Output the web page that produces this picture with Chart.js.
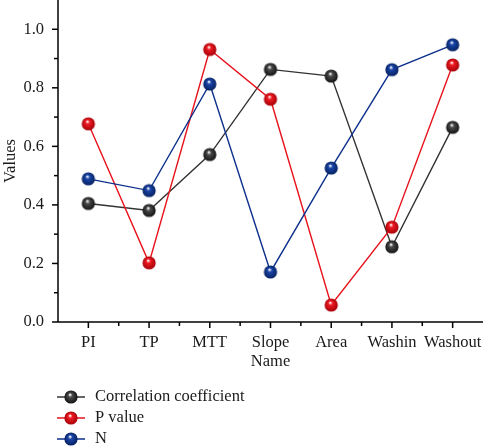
<!DOCTYPE html>
<html>
<head>
<meta charset="utf-8">
<script src="https://cdn.jsdelivr.net/npm/chart.js@4/dist/chart.umd.min.js"></script>
<style>
  html, body { margin: 0; padding: 0; background: #fff; }
  #wrap { width: 483px; height: 446px; }
</style>
</head>
<body>
<div id="wrap"><canvas id="chart" width="483" height="446"></canvas></div>
<script>
// =============================
// Données
// =============================
const names = ["PI", "TP", "MTT", "Slope", "Area", "Washin", "Washout"];
const correlation = [0.405, 0.381, 0.572, 0.863, 0.840, 0.257, 0.665];
const pValue = [0.677, 0.202, 0.931, 0.761, 0.058, 0.324, 0.878];
const nValues = [0.489, 0.449, 0.813, 0.171, 0.526, 0.862, 0.947];
const yTickValues = [0, 0.2, 0.4, 0.6, 0.8, 1.0];

const FONT = "'Liberation Serif', 'DejaVu Serif', serif";
const FSIZE = 16.5;
const TEXT = "#1a1a1a";

// =============================
// Marqueur "bille" avec dégradé
// =============================
function makeBall(color, dark) {
  const c = document.createElement("canvas");
  c.width = 16; c.height = 16;
  const g = c.getContext("2d");
  const grad = g.createRadialGradient(7, 5.5, 0.3, 8, 8, 6.8);
  grad.addColorStop(0, "#ffffff");
  grad.addColorStop(0.28, color);
  grad.addColorStop(1, dark);
  g.beginPath();
  g.arc(8, 8, 6.6, 0, Math.PI * 2);
  g.fillStyle = grad;
  g.fill();
  return c;
}

const series = [
  { label: "Correlation coefficient", data: correlation, line: "#333333", ball: makeBall("#4a4a4a", "#111111") },
  { label: "P value", data: pValue, line: "#e8121c", ball: makeBall("#ee1b22", "#a50008") },
  { label: "N", data: nValues, line: "#0d318c", ball: makeBall("#1a45a8", "#06205e") }
];

// =============================
// Axes + graduations + légende
// =============================
const axesPlugin = {
  id: "axes",
  afterDraw(chart) {
    const ctx = chart.ctx;
    const x = chart.scales.x, y = chart.scales.y;
    const area = chart.chartArea;
    ctx.save();
    ctx.strokeStyle = "#000";
    ctx.lineWidth = 1.5;

    // axe Y
    ctx.beginPath();
    ctx.moveTo(area.left, area.top);
    ctx.lineTo(area.left, area.bottom);
    ctx.stroke();
    for (let i = 0; i <= 10; i++) {
      const py = y.getPixelForValue(i / 10);
      const len = i % 2 === 0 ? 6 : 4;
      ctx.beginPath();
      ctx.moveTo(area.left - len, py);
      ctx.lineTo(area.left, py);
      ctx.stroke();
    }

    // axe X
    ctx.beginPath();
    ctx.moveTo(area.left, area.bottom);
    ctx.lineTo(area.right, area.bottom);
    ctx.stroke();
    const step = x.getPixelForValue(1) - x.getPixelForValue(0);
    names.forEach((n, i) => {
      const px = x.getPixelForValue(i);
      ctx.beginPath();
      ctx.moveTo(px, area.bottom);
      ctx.lineTo(px, area.bottom + 6);
      ctx.stroke();
      const mx = px + step / 2;
      if (mx < area.right - 1) {
        ctx.beginPath();
        ctx.moveTo(mx, area.bottom);
        ctx.lineTo(mx, area.bottom + 4);
        ctx.stroke();
      }
    });

    // légende
    const rows = [397, 418, 439];
    ctx.font = FSIZE + "px " + FONT;
    ctx.textBaseline = "middle";
    series.forEach((s, i) => {
      const ry = rows[i];
      ctx.strokeStyle = s.line;
      ctx.lineWidth = 1.5;
      ctx.beginPath();
      ctx.moveTo(57, ry);
      ctx.lineTo(85, ry);
      ctx.stroke();
      ctx.drawImage(s.ball, 71 - 8, ry - 8);
      ctx.fillStyle = TEXT;
      ctx.fillText(s.label, 95, ry);
    });
    ctx.restore();
  }
};

new Chart(document.getElementById("chart"), {
  type: "line",
  data: {
    labels: names,
    datasets: series.map((s, i) => ({
      label: s.label,
      data: s.data,
      borderColor: s.line,
      borderWidth: 1.4,
      pointStyle: s.ball,
      pointRadius: 7,
      tension: 0,
      order: 3 - i
    }))
  },
  options: {
    responsive: false,
    animation: false,
    layout: { padding: 0, autoPadding: false },
    plugins: {
      legend: { display: false },
      tooltip: { enabled: false }
    },
    scales: {
      x: {
        type: "category",
        offset: true,
        grid: { display: false, drawTicks: false },
        border: { display: false },
        ticks: { color: TEXT, font: { family: FONT, size: FSIZE }, padding: 11, maxRotation: 0, autoSkip: false },
        title: { display: true, text: "Name", color: TEXT, font: { family: FONT, size: FSIZE }, padding: { top: 0, bottom: 74 } },
        afterFit(s) { s.height = 124; s.paddingLeft = 0; s.paddingRight = 0; }
      },
      y: {
        min: 0,
        max: 1.1,
        grid: { display: false, drawTicks: false },
        border: { display: false },
        afterBuildTicks(s) { s.ticks = yTickValues.map(v => ({ value: v })); },
        ticks: { color: TEXT, font: { family: FONT, size: FSIZE }, padding: 14, callback: v => Number(v).toFixed(1) },
        title: { display: true, text: "Values", color: TEXT, font: { family: FONT, size: FSIZE }, padding: { top: 1, bottom: 0 } },
        afterFit(s) { s.width = 58; s.paddingTop = 0; s.paddingBottom = 0; }
      }
    }
  },
  plugins: [axesPlugin]
});
</script>
</body>
</html>
